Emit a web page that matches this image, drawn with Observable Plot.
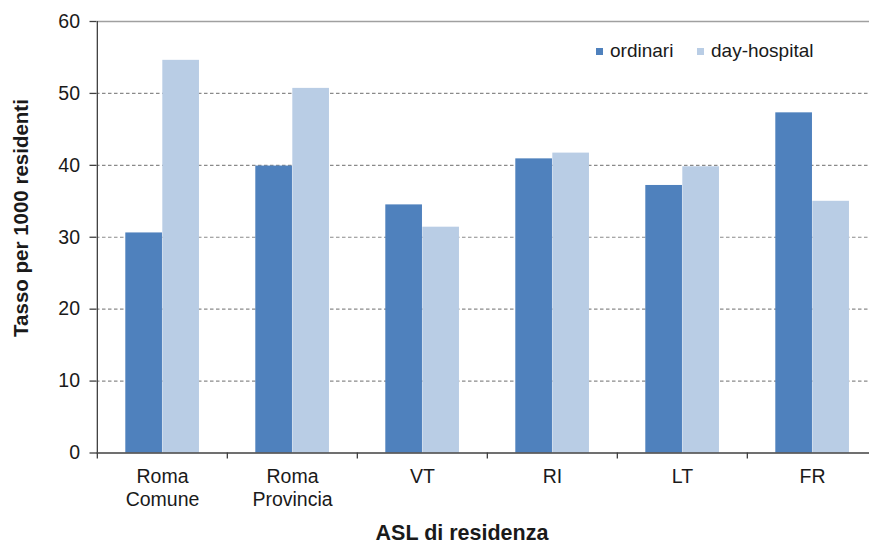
<!DOCTYPE html>
<html>
<head>
<meta charset="utf-8">
<script src="https://cdn.jsdelivr.net/npm/d3@7"></script>
<script src="https://cdn.jsdelivr.net/npm/@observablehq/plot@0.6"></script>
<style>
  html, body { margin: 0; padding: 0; background: #fff; }
  #wrap { position: relative; width: 869px; height: 548px; overflow: hidden;
          font-family: "Liberation Sans", Arial, sans-serif; color: #1a1a1a; }
  #wrap svg { position: absolute; left: 0; top: 0; }
  .ylab { position: absolute; left: 21px; top: 218px; transform: translate(-50%, -50%) rotate(-90deg);
          font-weight: bold; font-size: 20.5px; line-height: 1; white-space: nowrap; }
  .xlab { position: absolute; left: 462px; top: 523px; transform: translateX(-50%);
          font-weight: bold; font-size: 21.5px; line-height: 1; white-space: nowrap; }
  .leg { position: absolute; top: 41px; font-size: 19px; line-height: 20px; white-space: nowrap; display: flex; align-items: center; }
  .sw { width: 7px; height: 7px; margin-right: 7px; margin-top: 1px; }
</style>
</head>
<body>
<div id="wrap"></div>
<script>
// ---- data ----
const categories = ["Roma\nComune", "Roma\nProvincia", "VT", "RI", "LT", "FR"];
const seriesNames = ["ordinari", "day-hospital"];
const ordinari = [30.6, 39.9, 34.5, 40.9, 37.2, 47.3];
const dayHospital = [54.6, 50.7, 31.4, 41.7, 39.8, 35.0];
const yTicks = [0, 10, 20, 30, 40, 50, 60];
const gridTicks = [10, 20, 30, 40, 50];
const seriesColors = ["#4f81bd", "#b9cde5"];
const yTitle = "Tasso per 1000 residenti";
const xTitle = "ASL di residenza";

const rows = categories.flatMap((c, i) => [
  {cat: c, series: seriesNames[0], value: ordinari[i]},
  {cat: c, series: seriesNames[1], value: dayHospital[i]}
]);

// ---- layout ----
const W = 869, H = 548, mL = 96, mR = -9, mT = 21, mB = 95.5;
const bw = (W - mR - mL) / categories.length;
const barW = 37, barOff = 28.3;
const axisColor = "#404040";

const chart = Plot.plot({
  width: W, height: H,
  marginLeft: mL, marginRight: mR, marginTop: mT, marginBottom: mB,
  style: {fontFamily: '"Liberation Sans", Arial, sans-serif', fontSize: "19.5px", color: "#1a1a1a", background: "transparent", overflow: "visible"},
  x: {type: "band", domain: categories, padding: 0, axis: null},
  y: {domain: [0, 60], axis: null},
  color: {domain: seriesNames, range: seriesColors},
  marks: [
    Plot.gridY(gridTicks, {stroke: "#8a8a8a", strokeOpacity: 1, strokeWidth: 1.1, strokeDasharray: "3.5,2.5"}),
    Plot.ruleY([yTicks[yTicks.length - 1]], {stroke: "#a0a0a0", strokeWidth: 1.4}),
    Plot.barY(rows.filter(d => d.series === seriesNames[0]),
      {x: "cat", y: "value", fill: "series", insetLeft: barOff, insetRight: bw - barOff - barW}),
    Plot.barY(rows.filter(d => d.series === seriesNames[1]),
      {x: "cat", y: "value", fill: "series", insetLeft: barOff + barW, insetRight: bw - barOff - 2 * barW}),
    Plot.ruleY([0], {stroke: axisColor, strokeWidth: 1.3}),
    Plot.ruleX([categories[0]], {x: d => d, y1: 0, y2: yTicks[yTicks.length - 1], dx: -bw / 2, stroke: axisColor, strokeWidth: 1.3}),
    Plot.ruleX(categories, {x: d => d, y1: 0, y2: 0, insetTop: 6, dx: -bw / 2, stroke: axisColor, strokeWidth: 1.3}),
    Plot.axisY({ticks: yTicks, tickSize: 6.5, tickPadding: 10, label: null, stroke: axisColor, strokeWidth: 1.3}),
    Plot.axisX({tickSize: 0, tickPadding: 13, label: null, lineHeight: 1.2})
  ]
});

const wrap = document.getElementById("wrap");
wrap.appendChild(chart);

// titles
const yl = document.createElement("div"); yl.className = "ylab"; yl.textContent = yTitle; wrap.appendChild(yl);
const xl = document.createElement("div"); xl.className = "xlab"; xl.textContent = xTitle; wrap.appendChild(xl);

// legend
const legLeft = [596, 697];
seriesNames.forEach((s, i) => {
  const item = document.createElement("div");
  item.className = "leg";
  item.style.left = legLeft[i] + "px";
  const sw = document.createElement("span");
  sw.className = "sw";
  sw.style.background = chart.scale("color").apply(s);
  const t = document.createElement("span");
  t.textContent = s;
  item.appendChild(sw); item.appendChild(t);
  wrap.appendChild(item);
});
</script>
</body>
</html>
